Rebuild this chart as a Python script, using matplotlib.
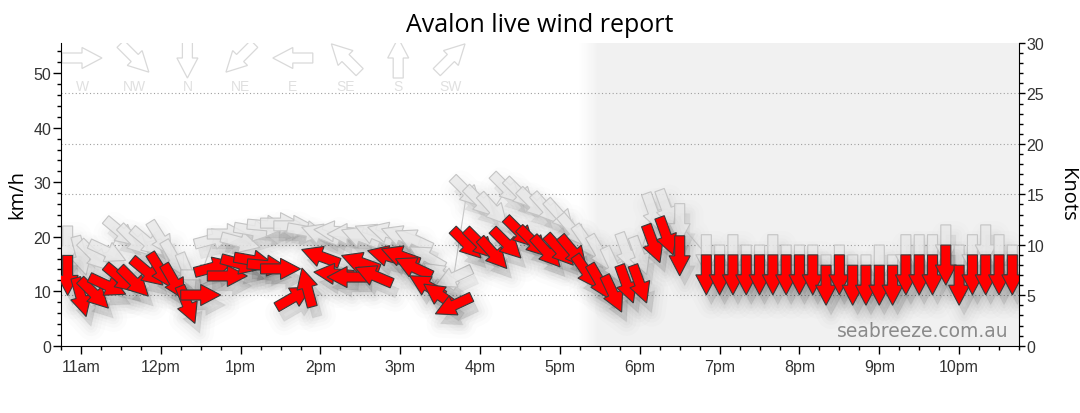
import numpy as np
import matplotlib
matplotlib.use('Agg')
import matplotlib.pyplot as plt
from matplotlib.patches import Polygon
from matplotlib.transforms import Affine2D, ScaledTranslation

KMH_PER_KNOT = 1.852

# observation times (10 min data, 18:40 missing)
obs_times = [
    "10:50",
    "11:00", "11:10", "11:20", "11:30", "11:40", "11:50",
    "12:00", "12:10", "12:20", "12:30", "12:40", "12:50",
    "13:00", "13:10", "13:20", "13:30", "13:40", "13:50",
    "14:00", "14:10", "14:20", "14:30", "14:40", "14:50",
    "15:00", "15:10", "15:20", "15:30", "15:40", "15:50",
    "16:00", "16:10", "16:20", "16:30", "16:40", "16:50",
    "17:00", "17:10", "17:20", "17:30", "17:40", "17:50",
    "18:00", "18:10", "18:20", "18:30", "18:50",
    "19:00", "19:10", "19:20", "19:30", "19:40", "19:50",
    "20:00", "20:10", "20:20", "20:30", "20:40", "20:50",
    "21:00", "21:10", "21:20", "21:30", "21:40", "21:50",
    "22:00", "22:10", "22:20", "22:30", "22:40",
]

# direction the wind comes from (degrees)
wind_dir = [
    0,
    345, 315, 295, 310, 315, 310,
    328, 330, 338, 270, 255, 270,
    285, 280, 275, 270, 240, 165,
    110, 95, 90, 110, 113, 105,
    110, 115, 120, 125, 65, 315,
    315, 318, 315, 315, 315, 318,
    318, 320, 325, 330, 335, 340,
    340, 340, 340, 0, 0,
    0, 0, 0, 0, 0, 0,
    0, 0, 0, 0, 0, 0,
    0, 0, 0, 0, 0, 0,
    0, 0, 0, 0, 0,
]

wind_kmh = [
    12.9,
    8.9, 9.5, 11.0, 12.3, 11.7, 13.5,
    13.8, 11.7, 7.5, 9.3, 14.4, 12.8,
    15.0, 15.6, 14.7, 14.1, 8.9, 10.7,
    16.4, 13.2, 12.6, 15.3, 12.9, 16.5,
    16.5, 14.4, 11.0, 9.2, 7.4, 18.7,
    18.7, 16.9, 18.7, 20.8, 19.0, 17.2,
    17.5, 17.2, 13.5, 11.7, 9.5, 11.3,
    11.3, 18.7, 20.1, 16.5, 13.0,
    13.0, 13.0, 13.0, 13.0, 13.0, 13.0,
    13.0, 13.0, 11.1, 13.0, 11.1, 11.1,
    11.1, 11.1, 13.0, 13.0, 13.0, 14.8,
    11.1, 13.0, 13.0, 13.0, 13.0,
]

gust_dir = [
    0,
    345, 315, 295, 310, 315, 310,
    328, 330, 338, 270, 255, 270,
    285, 280, 275, 270, 270, 280,
    110, 95, 90, 110, 113, 105,
    110, 115, 120, 125, 65, 315,
    315, 318, 315, 315, 315, 318,
    318, 320, 325, 330, 335, 340,
    340, 340, 340, 0, 0,
    0, 0, 0, 0, 0, 0,
    0, 0, 0, 0, 0, 0,
    0, 0, 0, 0, 0, 0,
    0, 0, 0, 0, 0,
]

gust_kmh = [
    18.3,
    16.5, 16.5, 17.2, 20.8, 19.3, 19.0,
    19.6, 16.0, 13.5, 13.0, 19.6, 20.5,
    19.0, 21.1, 22.0, 22.5, 22.0, 21.0,
    20.5, 21.0, 20.5, 20.0, 20.5, 20.8,
    20.2, 19.5, 16.3, 13.0, 12.5, 28.2,
    26.4, 25.0, 28.8, 27.9, 26.0, 25.1,
    23.9, 21.1, 19.0, 17.0, 14.7, 17.2,
    16.5, 24.5, 25.1, 22.4, 16.7,
    14.8, 16.7, 14.8, 14.8, 16.7, 14.8,
    14.8, 14.8, 13.0, 14.8, 13.0, 13.0,
    14.8, 13.0, 16.7, 16.7, 16.7, 18.5,
    14.8, 16.7, 18.5, 16.7, 14.8,
]

hour_labels = ['11am', '12pm', '1pm', '2pm', '3pm', '4pm',
               '5pm', '6pm', '7pm', '8pm', '9pm', '10pm']
compass_labels = ['W', 'NW', 'N', 'NE', 'E', 'SE', 'S', 'SW']
compass_dirs = [270, 315, 0, 45, 90, 135, 180, 225]
night_start = "17:28"


def to_minutes(s):
    h, m = s.split(':')
    return int(h) * 60 + int(m)


# arrow shape in pixels, pointing along +x, centred on the point
ARROW = np.array([(-20, -5), (0, -5), (0, -10.5), (20, 0),
                  (0, 10.5), (0, 5), (-20, 5)])


def arrow_angle(direction_from):
    rad = np.deg2rad(direction_from)
    return np.degrees(np.arctan2(-np.cos(rad), -np.sin(rad)))


def place(x, y, angle, base, dx=0, dy=0):
    return Affine2D().rotate_deg(angle).translate(dx, dy) + ScaledTranslation(x, y, base)


def draw_arrow(ax, x, y, angle, fc, ec, lw, z, base, shadow=0.0):
    # soft drop shadow from a few stacked translucent copies
    if shadow > 0:
        for sw, sa in [(20, 0.18), (14, 0.25), (9, 0.3), (5, 0.35), (1, 0.4)]:
            c = (0, 0, 0, sa * shadow)
            ax.add_patch(Polygon(ARROW, closed=True,
                                 transform=place(x, y, angle, base, 5, -10),
                                 fc=c, ec=c, lw=sw, joinstyle='round',
                                 zorder=z - 0.5))
    ax.add_patch(Polygon(ARROW, closed=True, transform=place(x, y, angle, base),
                         fc=fc, ec=ec, lw=lw, zorder=z))


plt.rcParams['font.family'] = ['Liberation Sans', 'DejaVu Sans']

fig = plt.figure(figsize=(10.8, 4.14), dpi=100)
ax = fig.add_axes([61 / 1080, 1 - 346.7 / 414, 958 / 1080, 302.7 / 414])

t0, t1 = to_minutes("10:45"), to_minutes("22:45")
ax.set_xlim(t0, t1)
ax.set_ylim(0, 30 * KMH_PER_KNOT)
ax.set_autoscale_on(False)

# night shading with a soft edge
ns = to_minutes(night_start)
ax.axvspan(ns, t1, color='#f1f1f1', lw=0, zorder=0)
for i in range(16):
    ax.axvspan(ns - 14 + i * 14 / 16, ns - 14 + (i + 1) * 14 / 16,
               color='#f1f1f1', alpha=((i + 1) / 17) ** 1.3, lw=0, zorder=0)

for k in [5, 10, 15, 20, 25]:
    ax.axhline(k * KMH_PER_KNOT, color='#a0a0a0', lw=0.8,
               ls=(0, (1, 2.2)), zorder=0.5)

# compass legend
for i, (lab, d) in enumerate(zip(compass_labels, compass_dirs)):
    px = 82 + i * 52.7
    axx = (px - 61) / 958
    draw_arrow(ax, axx, (346.7 - 59) / 302.7, arrow_angle(d),
               '#ffffff', '#d9d9d9', 0.9, 1, ax.transAxes)
    ax.text(axx, (346.7 - 87) / 302.7, lab, transform=ax.transAxes,
            ha='center', va='center', fontsize=10, color='#e0e0e0', zorder=1)

tm = [to_minutes(t) for t in obs_times]

# gusts
ax.plot(tm, gust_kmh, color='#c8c8c8', lw=0.8, zorder=1.8)
for x, y, d in zip(tm, gust_kmh, gust_dir):
    draw_arrow(ax, x, y, arrow_angle(d), (0.915, 0.915, 0.915, 0.85),
               '#c4c4c4', 0.8, 2, ax.transData, shadow=0.035)

# wind
for x, y, d in zip(tm, wind_kmh, wind_dir):
    draw_arrow(ax, x, y, arrow_angle(d), '#ff0000', '#3a3a3a', 0.8, 3,
               ax.transData, shadow=0.06)

ax.text((1009 - 61) / 958, (346.7 - 337) / 302.7, 'seabreeze.com.au',
        transform=ax.transAxes, ha='right', va='baseline', fontsize=13.5,
        color='#8a8a8a', family='DejaVu Sans', zorder=1)

# axes styling
ax.set_xticks([to_minutes(f"{h}:00") for h in range(11, 23)])
ax.set_xticklabels(hour_labels)
ax.set_xticks(np.arange(t0, t1 + 1, 15), minor=True)
ax.set_yticks(np.arange(0, 51, 10))
ax.set_yticks(np.arange(0, 55, 2), minor=True)
ax.tick_params(which='major', length=5.5, width=1, labelsize=11.5,
               labelcolor='#333333')
ax.tick_params(which='minor', length=3, width=1)
ax.tick_params(axis='x', pad=4)
ax.tick_params(axis='y', pad=1.5)
ax.spines['top'].set_visible(False)
ax.spines['right'].set_visible(False)

ax2 = ax.twinx()
ax2.set_ylim(0, 30)
ax2.set_yticks(np.arange(0, 31, 5))
ax2.set_yticks(np.arange(0, 31, 1), minor=True)
ax2.tick_params(which='major', length=4, width=1, labelsize=11.5,
                labelcolor='#333333', pad=1.5)
ax2.tick_params(which='minor', length=3, width=1)
for s in ['top', 'left', 'bottom']:
    ax2.spines[s].set_visible(False)

fig.text(540 / 1080, 1 - 31.7 / 414, 'Avalon live wind report',
         ha='center', va='baseline', fontsize=18, family='Open Sans')
fig.text(17 / 1080, 1 - 195 / 414, 'km/h', rotation=90, ha='center',
         va='center', fontsize=14.5, family='Open Sans')
fig.text(1067 / 1080, 1 - 195 / 414, 'Knots', rotation=270, ha='center',
         va='center', fontsize=14.5, family='Open Sans')

fig.savefig('out.png', dpi=100)
